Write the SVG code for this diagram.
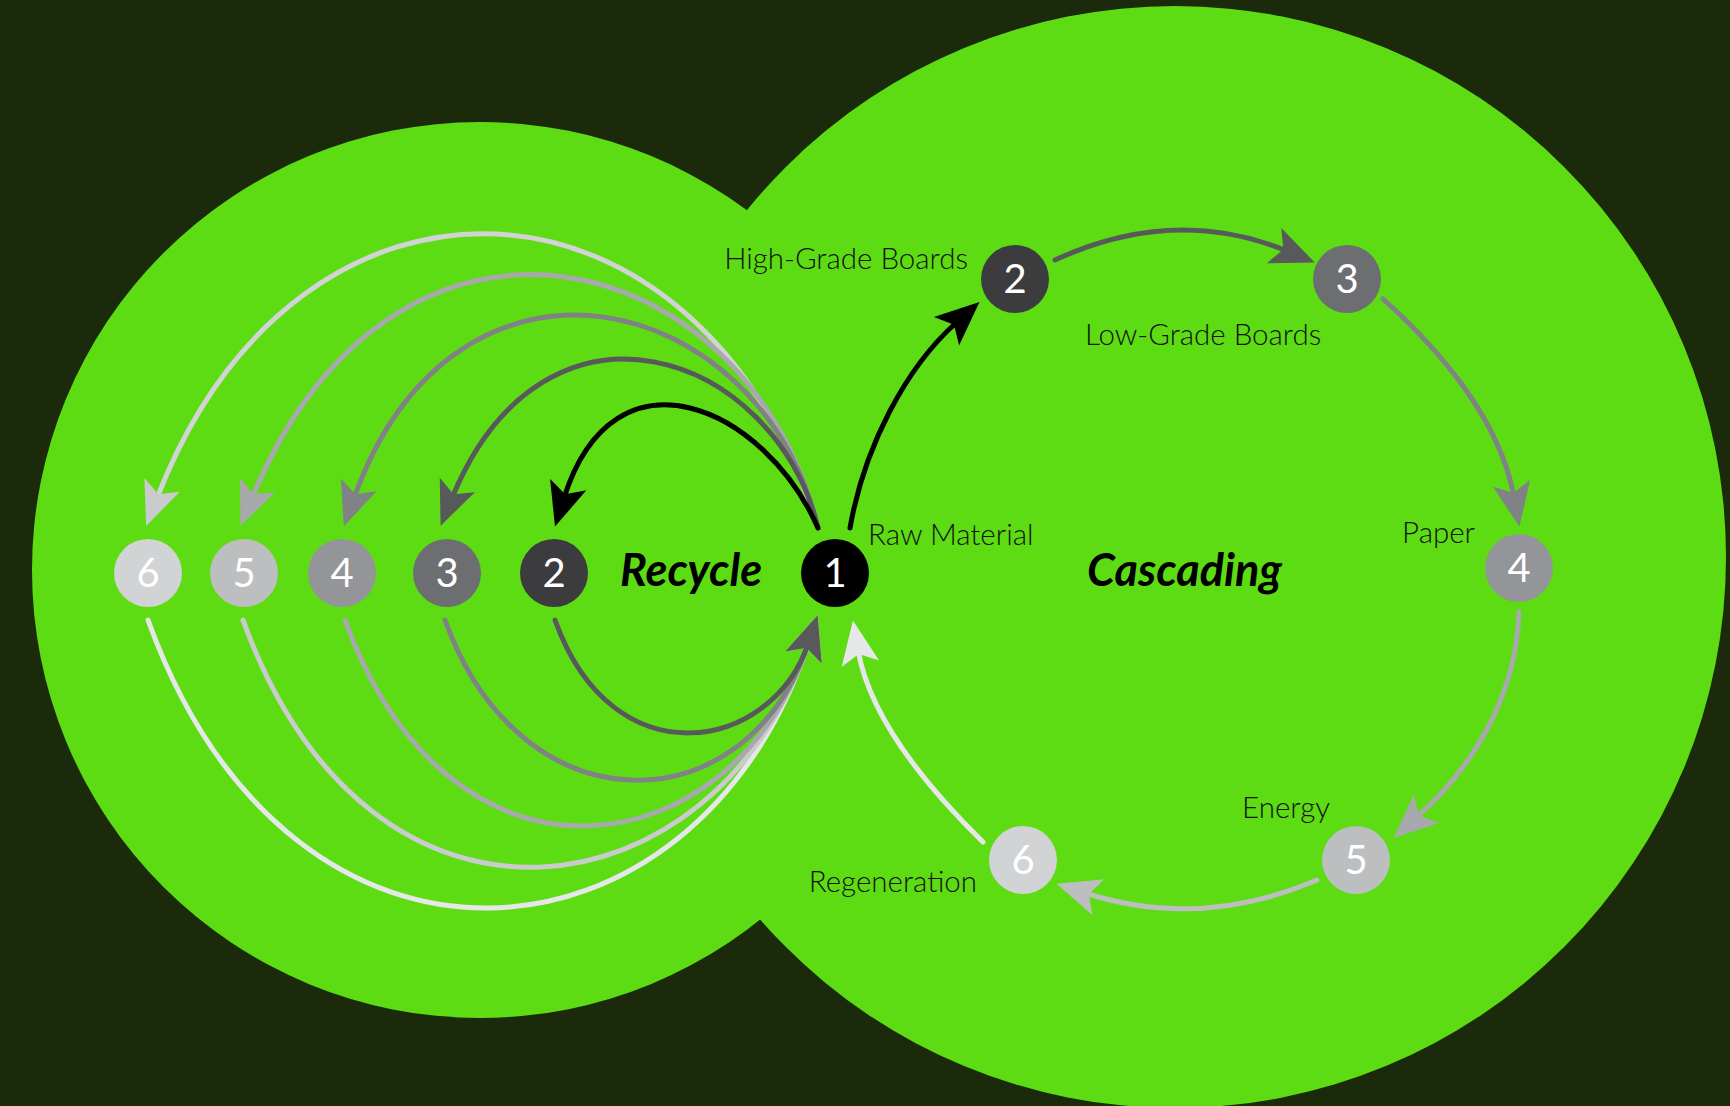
<svg xmlns="http://www.w3.org/2000/svg" width="1730" height="1106" viewBox="0 0 1730 1106">
<style>
.bg{fill:#1b2a0a}
.blob{fill:#5ddc14}
.num{font-family:Lato,"Open Sans","Liberation Sans",sans-serif;font-size:40px;fill:#ffffff;text-anchor:middle}
.lbl{font-family:Lato,"Open Sans","Liberation Sans",sans-serif;font-size:29.5px;font-weight:300;fill:#111111}
.ttl{font-family:Lato,"Open Sans","Liberation Sans",sans-serif;font-size:45px;font-weight:bold;font-style:italic;fill:#000000}
.c{fill:none;stroke-width:5;stroke-linecap:round}
</style>
<defs>
<marker id="m-k" markerUnits="userSpaceOnUse" viewBox="0 -22 50 44" markerWidth="50" markerHeight="44" refX="14" refY="0" orient="auto"><path d="M0,-19 L44,0 L0,19 L10,0 Z" fill="#000000"/></marker>
<marker id="m-d" markerUnits="userSpaceOnUse" viewBox="0 -22 50 44" markerWidth="50" markerHeight="44" refX="14" refY="0" orient="auto"><path d="M0,-19 L44,0 L0,19 L10,0 Z" fill="#58595b"/></marker>
<marker id="m-g" markerUnits="userSpaceOnUse" viewBox="0 -22 50 44" markerWidth="50" markerHeight="44" refX="14" refY="0" orient="auto"><path d="M0,-19 L44,0 L0,19 L10,0 Z" fill="#808285"/></marker>
<marker id="m-l" markerUnits="userSpaceOnUse" viewBox="0 -22 50 44" markerWidth="50" markerHeight="44" refX="14" refY="0" orient="auto"><path d="M0,-19 L44,0 L0,19 L10,0 Z" fill="#a7a9ac"/></marker>
<marker id="m-s" markerUnits="userSpaceOnUse" viewBox="0 -22 50 44" markerWidth="50" markerHeight="44" refX="14" refY="0" orient="auto"><path d="M0,-19 L44,0 L0,19 L10,0 Z" fill="#bcbec0"/></marker>
<marker id="m-p" markerUnits="userSpaceOnUse" viewBox="0 -22 50 44" markerWidth="50" markerHeight="44" refX="14" refY="0" orient="auto"><path d="M0,-19 L44,0 L0,19 L10,0 Z" fill="#c9cbcd"/></marker>
<marker id="m-w" markerUnits="userSpaceOnUse" viewBox="0 -22 50 44" markerWidth="50" markerHeight="44" refX="14" refY="0" orient="auto"><path d="M0,-19 L44,0 L0,19 L10,0 Z" fill="#e6e7e8"/></marker>
</defs>
<rect class="bg" x="0" y="0" width="1730" height="1106"/>
<g id="background">
<circle class="blob" cx="480" cy="570" r="448"/>
<circle class="blob" cx="1175" cy="557" r="551"/>
</g>
<g id="connectors">
<!-- recycle: upper arcs from 1 to left nodes -->
<path class="c" stroke="#d1d3d4" marker-end="url(#m-p)" d="M818,528 C700,152 300,130 157,498"/>
<path class="c" stroke="#a7a9ac" marker-end="url(#m-l)" d="M818,528 C750,243 395,153 252,498"/>
<path class="c" stroke="#808285" marker-end="url(#m-g)" d="M818,528 C760,287 455,216 354,498"/>
<path class="c" stroke="#58595b" marker-end="url(#m-d)" d="M818,528 C775,351 545,272 452,498"/>
<path class="c" stroke="#000000" marker-end="url(#m-k)" d="M818,528 C765,407 614,339 564,498"/>
<!-- recycle: lower arcs from left nodes back to 1 -->
<path class="c" stroke="#e6e7e8" marker-end="url(#m-w)" d="M148,620 C292,1019 696,981 808,644"/>
<path class="c" stroke="#c9cbcd" marker-end="url(#m-p)" d="M243,620 C372,976 718,915 808,644"/>
<path class="c" stroke="#a7a9ac" marker-end="url(#m-l)" d="M345,620 C451,912 733,869 808,644"/>
<path class="c" stroke="#808285" marker-end="url(#m-g)" d="M445,620 C522,834 748,825 808,644"/>
<path class="c" stroke="#58595b" marker-end="url(#m-d)" d="M555,620 C613,782 772,751 808,644"/>
<!-- cascading cycle -->
<path class="c" stroke="#000000" marker-end="url(#m-k)" d="M850,528 C864,448 905,368 957,322"/>
<path class="c" stroke="#58595b" marker-end="url(#m-d)" d="M1055,260 Q1175,205 1287,251"/>
<path class="c" stroke="#808285" marker-end="url(#m-g)" d="M1383,299 C1440,350 1500,420 1514,497"/>
<path class="c" stroke="#a7a9ac" marker-end="url(#m-l)" d="M1519,612 C1516,700 1470,770 1416,818"/>
<path class="c" stroke="#bcbec0" marker-end="url(#m-s)" d="M1317,880 Q1200,930 1085,893"/>
<path class="c" stroke="#e6e7e8" marker-end="url(#m-w)" d="M983,842 C930,790 870,720 858,650"/>
</g>
<g id="n-raw-1"><circle cx="835" cy="573" r="34" fill="#000000"/><text class="num" x="835" y="587">1</text></g>
<g id="n-recycle-2"><circle cx="554" cy="573" r="34" fill="#3c3c3e"/><text class="num" x="554" y="587">2</text></g>
<g id="n-recycle-3"><circle cx="447" cy="573" r="34" fill="#6d6e71"/><text class="num" x="447" y="587">3</text></g>
<g id="n-recycle-4"><circle cx="342" cy="573" r="34" fill="#939598"/><text class="num" x="342" y="587">4</text></g>
<g id="n-recycle-5"><circle cx="244" cy="573" r="34" fill="#bcbec0"/><text class="num" x="244" y="587">5</text></g>
<g id="n-recycle-6"><circle cx="148" cy="573" r="34" fill="#d1d3d4"/><text class="num" x="148" y="587">6</text></g>
<g id="n-high-grade-2"><circle cx="1015" cy="279" r="34" fill="#3c3c3e"/><text class="num" x="1015" y="293">2</text></g>
<g id="n-low-grade-3"><circle cx="1347" cy="279" r="34" fill="#6d6e71"/><text class="num" x="1347" y="293">3</text></g>
<g id="n-paper-4"><circle cx="1519" cy="568" r="34" fill="#939598"/><text class="num" x="1519" y="582">4</text></g>
<g id="n-energy-5"><circle cx="1356" cy="860" r="34" fill="#bcbec0"/><text class="num" x="1356" y="874">5</text></g>
<g id="n-regeneration-6"><circle cx="1023" cy="860" r="34" fill="#d1d3d4"/><text class="num" x="1023" y="874">6</text></g>
<g id="labels">
<text class="lbl" x="968" y="269" text-anchor="end">High-Grade Boards</text>
<text class="lbl" x="1085" y="345">Low-Grade Boards</text>
<text class="lbl" x="868" y="545">Raw Material</text>
<text class="lbl" x="1475" y="543" text-anchor="end">Paper</text>
<text class="lbl" x="1330" y="818" text-anchor="end">Energy</text>
<text class="lbl" x="977" y="892" text-anchor="end">Regeneration</text>
<text class="ttl" x="620" y="586">Recycle</text>
<text class="ttl" x="1087" y="586">Cascading</text>
</g>
</svg>
